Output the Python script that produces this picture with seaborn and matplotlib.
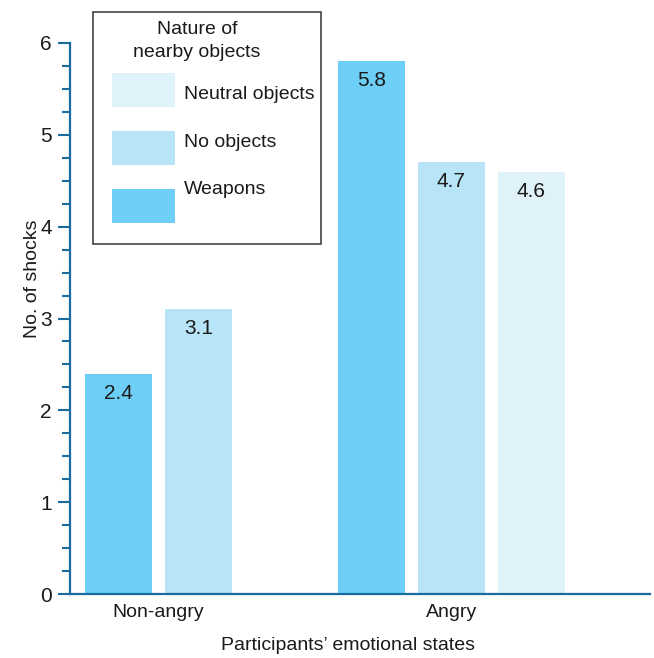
import numpy as np
import pandas as pd
import matplotlib
matplotlib.use("Agg")
import matplotlib.pyplot as plt
from matplotlib.patches import Rectangle
from matplotlib.ticker import MultipleLocator
import seaborn as sns

# Mean number of shocks given, by emotional state and nearby objects
states = ["Non-angry", "Angry"]
object_types = ["Weapons", "No objects", "Neutral objects"]
weapons = [2.4, 5.8]
no_objects = [3.1, 4.7]
neutral_objects = [np.nan, 4.6]  # no neutral-object condition for non-angry participants

legend_order = ["Neutral objects", "No objects", "Weapons"]
palette = {"Weapons": "#6dcff6", "No objects": "#b8e4f8", "Neutral objects": "#dff2fa"}
axis_color = "#1a6b9e"
text_color = "#1a1a1a"

df = pd.DataFrame({
    "state": states * 3,
    "objects": np.repeat(object_types, len(states)),
    "shocks": weapons + no_objects + neutral_objects,
}).dropna()

sns.set_theme(style="white")
plt.rcParams["font.family"] = ["Liberation Sans", "DejaVu Sans"]
plt.rcParams["text.color"] = text_color

FS = 14      # words
FS_NUM = 15  # numbers

W, H = 654, 658
fig = plt.figure(figsize=(W / 100, H / 100), dpi=100)
ax = fig.add_axes([70 / W, 64 / H, 580 / W, 551 / H])

sns.barplot(data=df, x="state", y="shocks", hue="objects",
            order=states, hue_order=object_types, palette=palette,
            saturation=1, width=0.949, gap=0.1625, errorbar=None,
            legend=False, linewidth=0, ax=ax)

# value labels just inside the top of each bar
for container in ax.containers:
    for bar, v in zip(container, container.datavalues):
        if np.isnan(v):
            continue
        ax.annotate(f"{v:.1f}", (bar.get_x() + bar.get_width() / 2, v),
                    xytext=(0, -10), textcoords="offset pixels",
                    ha="center", va="top", fontsize=FS_NUM, color=text_color)

# category labels centred under the bars actually drawn for each state
centers = {}
for p in ax.patches:
    if p.get_height() > 0:
        c = p.get_x() + p.get_width() / 2
        centers.setdefault(int(round(c)), []).append(c)
ax.set_xticks([np.mean(centers[i]) for i in range(len(states))], labels=states)

ax.set_xlim(-0.508, 1.785)
ax.set_ylim(0, 6)
ax.set_yticks(range(7))
ax.yaxis.set_minor_locator(MultipleLocator(0.25))
ax.yaxis.get_major_ticks()[0].tick1line.set_visible(False)

for side in ("top", "right"):
    ax.spines[side].set_visible(False)
for side in ("left", "bottom"):
    ax.spines[side].set_color(axis_color)
    ax.spines[side].set_linewidth(1.6)

ax.tick_params(axis="y", which="major", direction="out", length=8.6, width=1.5,
               color=axis_color, pad=4.5, labelsize=FS_NUM, labelcolor=text_color, left=True)
ax.tick_params(axis="y", which="minor", direction="out", length=5.8, width=1.5,
               color=axis_color, left=True)
ax.tick_params(axis="x", length=0, pad=7.0, labelsize=FS, labelcolor=text_color)

ax.set_ylabel("No. of shocks", fontsize=FS, color=text_color)
ax.set_xlabel("Participants\u2019 emotional states", fontsize=FS, color=text_color)
ax.yaxis.set_label_coords((41 - 70) / 580, (594 - 278.5) / 551)
ax.xaxis.set_label_coords((348 - 70) / 580, (594 - 637) / 551)

# legend box
def fx(px):
    return px / W

def fy(py):
    return 1 - py / H

fig.add_artist(Rectangle((fx(93), fy(244)), (321 - 93) / W, (244 - 12) / H,
                         transform=fig.transFigure, facecolor="white",
                         edgecolor="#333333", linewidth=1.1, zorder=3))
fig.text(fx(197), fy(34), "Nature of", ha="center", va="baseline",
         fontsize=FS, zorder=4)
fig.text(fx(197), fy(56.7), "nearby objects", ha="center", va="baseline",
         fontsize=FS, zorder=4)
for name, top, base in zip(legend_order, [73, 131, 189], [99, 146.7, 194.3]):
    fig.add_artist(Rectangle((fx(112), fy(top + 34)), 63 / W, 34 / H,
                             transform=fig.transFigure, facecolor=palette[name],
                             edgecolor="none", zorder=4))
    fig.text(fx(184), fy(base), name, ha="left", va="baseline",
             fontsize=FS, zorder=4)

fig.savefig("out.png", dpi=100, facecolor="white")
